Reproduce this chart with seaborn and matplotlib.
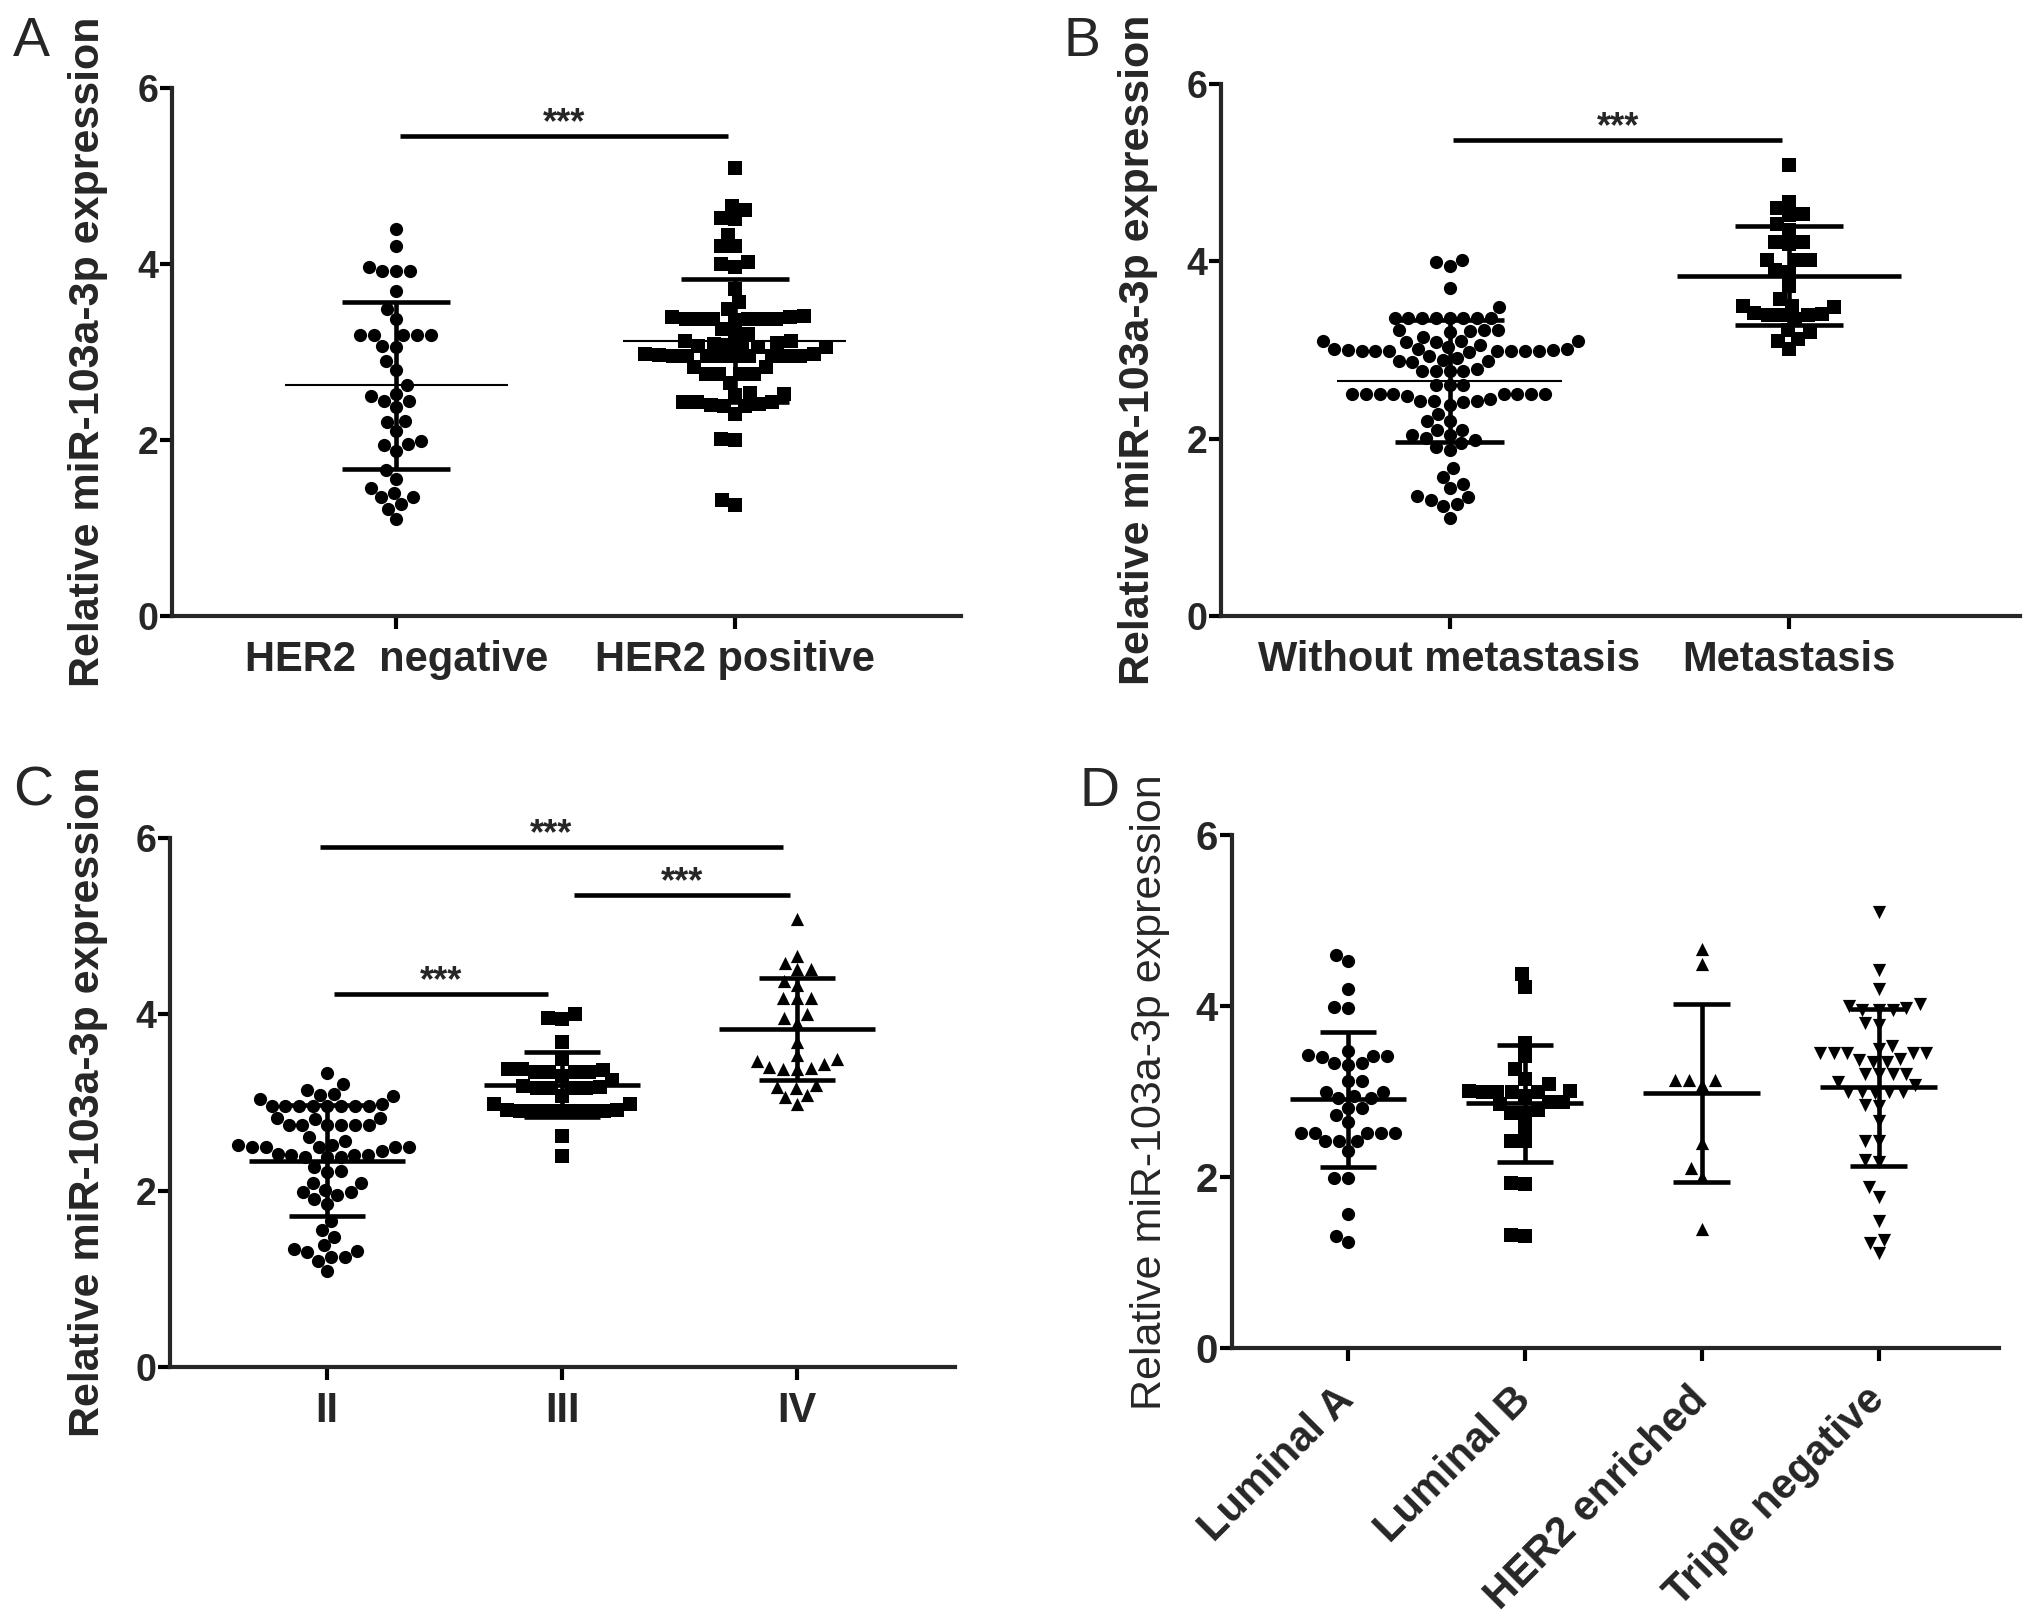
import numpy as np
import pandas as pd
import seaborn as sns
import matplotlib.pyplot as plt

#########################
# Data
#########################

ylabel = "Relative miR-103a-3p expression"

# panel A - HER2 status
her2_labels = ["HER2  negative", "HER2 positive"]
her2_negative = [4.40, 4.21, 3.97, 3.92, 3.92, 3.92, 3.69, 3.49, 3.38, 3.19, 3.19, 3.19, 3.19, 3.19,
                 3.07, 3.06, 2.90, 2.80, 2.62, 2.52, 2.50, 2.44, 2.44, 2.37, 2.22, 2.21, 2.10, 1.99,
                 1.95, 1.94, 1.87, 1.66, 1.56, 1.45, 1.40, 1.35, 1.35, 1.27, 1.22, 1.10]
her2_positive = [5.09, 4.66, 4.61, 4.52, 4.51, 4.33, 4.20, 4.20, 4.02, 4.00, 3.97, 3.72, 3.57, 3.49,
                 3.40, 3.38, 3.38, 3.38, 3.38, 3.41, 3.38, 3.38, 3.36, 3.40,
                 3.26, 3.21, 3.21, 3.13, 3.13,
                 3.08, 3.06, 3.09, 3.08, 3.10, 3.06, 3.07,
                 2.95, 2.95, 2.98, 2.96, 2.96, 2.96, 2.96, 2.95, 2.96, 2.96, 2.98, 2.97,
                 2.83, 2.83, 2.75, 2.75, 2.75, 2.75, 2.65,
                 2.53, 2.52, 2.51, 2.43, 2.43, 2.43, 2.41, 2.40, 2.39, 2.39, 2.29,
                 2.01, 2.00, 1.32, 1.26]
her2_mean = [2.62, 3.13]
her2_sd = [0.95, 0.70]

# panel B - metastasis
meta_labels = ["Without metastasis", "Metastasis"]
no_metastasis = [4.02, 3.95, 3.99, 3.70, 3.48,
                 3.36, 3.36, 3.36, 3.36, 3.36, 3.36, 3.36, 3.36,
                 3.22, 3.22, 3.21, 3.22, 3.20, 3.15,
                 3.10, 3.10, 3.09, 3.09, 3.10,
                 3.00, 3.00, 2.99, 2.99, 2.99, 3.01, 2.99, 3.03, 3.01, 2.99, 3.06, 2.99, 2.99, 2.98, 3.01,
                 2.93, 2.89, 2.88, 2.87, 2.91, 2.88,
                 2.76, 2.76, 2.76, 2.79, 2.76,
                 2.60, 2.60, 2.61,
                 2.50, 2.50, 2.50, 2.50, 2.50, 2.50, 2.50, 2.50, 2.48, 2.42, 2.42, 2.42, 2.41, 2.38, 2.45,
                 2.28, 2.20, 2.20, 2.10, 2.10,
                 2.04, 2.04, 1.98, 1.95, 1.91, 2.01, 1.87, 1.67, 1.57, 1.49, 1.44,
                 1.34, 1.31, 1.26, 1.35, 1.24, 1.11]
metastasis = [5.09, 4.67, 4.60, 4.53, 4.52, 4.42, 4.35, 4.22, 4.20, 4.22, 4.02, 4.01, 4.01, 3.90,
              3.88, 3.72, 3.57, 3.50, 3.50, 3.48, 3.40, 3.42, 3.41, 3.40, 3.40, 3.35, 3.22, 3.20,
              3.12, 3.10, 3.01]
meta_mean = [2.65, 3.84]
meta_sd = [0.69, 0.56]

# panel C - TNM stage
stage_labels = ["II", "III", "IV"]
stage_II = [3.33, 3.21, 3.14, 3.09, 3.10, 3.07, 3.04,
            2.96, 2.96, 2.96, 2.96, 2.98, 2.96, 2.96, 2.96, 2.96,
            2.82, 2.82, 2.81,
            2.74, 2.74, 2.74, 2.74, 2.74, 2.74,
            2.61, 2.56,
            2.50, 2.50, 2.50, 2.52, 2.52, 2.50, 2.50,
            2.42, 2.41, 2.41, 2.38, 2.41, 2.38, 2.45, 2.38,
            2.27, 2.22, 2.21, 2.09, 2.09,
            2.01, 1.99, 1.99, 1.95, 1.91, 1.85, 1.66, 1.55, 1.48,
            1.32, 1.30, 1.34, 1.38, 1.25, 1.25, 1.20, 1.09]
stage_III = [4.00, 3.95, 3.96, 3.69, 3.49,
             3.38, 3.35, 3.37, 3.38, 3.35, 3.35, 3.35, 3.30,
             3.25, 3.19, 3.17, 3.17, 3.18, 3.17, 3.16,
             3.07, 2.98, 2.98,
             2.90, 2.90, 2.90, 2.90, 2.92, 2.92, 2.90, 2.90, 2.90,
             2.62, 2.39]
stage_IV = [5.08, 4.66, 4.58, 4.51, 4.51, 4.38, 4.33, 4.18, 4.18, 4.18, 4.00, 3.96, 3.90, 3.69,
            3.49, 3.54, 3.47, 3.38, 3.44, 3.38, 3.40, 3.39, 3.20, 3.17, 3.18, 3.08, 3.06, 2.98]
stage_mean = [2.34, 3.20, 3.83]
stage_sd = [0.63, 0.37, 0.58]

# panel D - molecular subtype
subtype_labels = ["Luminal A", "Luminal B", "HER2 enriched", "Triple negative"]
luminal_a = [4.60, 4.53, 4.20, 3.99, 3.98, 3.47, 3.43, 3.41, 3.41, 3.40, 3.33, 3.31, 3.33, 3.12,
             3.12, 3.00, 3.00, 2.95, 2.92, 2.92, 2.81, 2.81, 2.72, 2.64, 2.52, 2.52, 2.52, 2.52,
             2.52, 2.42, 2.42, 2.42, 2.30, 1.99, 1.99, 1.57, 1.31, 1.24]
luminal_b = [4.37, 4.22, 3.57, 3.41, 3.26, 3.15, 3.01, 3.00, 3.00, 3.01, 3.09, 2.99, 3.00, 2.88,
             2.95, 2.88, 2.85, 2.75, 2.75, 2.78, 2.58, 2.42, 2.42, 1.93, 1.92, 1.32, 1.31]
her2_enriched = [4.67, 4.49, 3.08, 3.14, 3.14, 3.14, 2.40, 2.10, 2.00, 1.39]
triple_negative = [5.10, 4.42, 4.20, 4.00, 4.02, 3.95, 3.95, 3.95, 3.98, 3.80, 3.78, 3.45, 3.45,
                   3.45, 3.45, 3.50, 3.53, 3.45, 3.35, 3.34, 3.37, 3.38, 3.20, 3.20, 3.20, 3.20,
                   3.08, 3.11, 3.00, 3.00, 2.98, 3.00, 3.00, 2.83, 2.84, 2.65, 2.42, 2.42, 2.20,
                   2.17, 1.88, 1.77, 1.48, 1.26, 1.23, 1.11]
subtype_mean = [2.91, 2.86, 2.98, 3.05]
subtype_sd = [0.79, 0.68, 1.04, 0.92]

# significance brackets: (from, to, height)
her2_sig = [(0.01, 0.98, 5.46)]
meta_sig = [(0.01, 0.98, 5.37)]
stage_sig = [(-0.03, 1.94, 5.90), (1.05, 1.97, 5.35), (0.03, 0.94, 4.23)]


#########################
# Plot setup
#########################

sns.set_style("ticks")
plt.rcParams['font.family'] = ['Liberation Sans', 'DejaVu Sans']
plt.rcParams['font.weight'] = 'bold'

W, H = 2031, 1623
fig = plt.figure(figsize=(W / 100, H / 100), dpi=100)


def px_axes(left, top, right, bottom):
    return fig.add_axes([left / W, 1 - bottom / H, (right - left) / W, (bottom - top) / H])


def dot_panel(ax, groups, labels, markers, means, sds, mean_lw, xlim, sig):
    for lab, vals, mk in zip(labels, groups, markers):
        sns.swarmplot(x=[lab] * len(vals), y=vals, order=labels, marker=mk, color='black',
                      size=9.5, ax=ax, warn_thresh=1, zorder=2)
    # mean +/- SD
    for i, (m, s, lw) in enumerate(zip(means, sds, mean_lw)):
        ax.hlines(m, i - 0.33, i + 0.33, color='black', lw=lw, zorder=3)
        ax.hlines([m - s, m + s], i - 0.16, i + 0.16, color='black', lw=3.3, zorder=3)
        ax.vlines(i, m - s, m + s, color='black', lw=3.3, zorder=3)
    for x1, x2, y in sig:
        ax.plot([x1, x2], [y, y], color='black', lw=3.3, clip_on=False, solid_capstyle='butt')
        ax.text((x1 + x2) / 2, y + 0.03, '***', ha='center', va='baseline', fontsize=26,
                fontweight='bold', clip_on=False)
    ax.set_ylim(0, 6)
    ax.set_yticks([0, 2, 4, 6])
    ax.set_xlim(*xlim)
    ax.set_xlabel('')
    ax.set_ylabel('')
    sns.despine(ax=ax)
    for side in ['left', 'bottom']:
        ax.spines[side].set_linewidth(3)
    ax.tick_params(axis='both', direction='out', length=9, width=3, color='black')
    ax.tick_params(axis='y', labelsize=27, pad=1)
    ax.tick_params(axis='x', labelsize=30, pad=8)


# A
axA = px_axes(172, 88, 961, 616)
dot_panel(axA, [her2_negative, her2_positive], her2_labels, ['o', 's'], her2_mean, her2_sd,
          [1.5, 1.5], (-0.663, 1.669), her2_sig)

# B
axB = px_axes(1221, 84, 2020, 616)
dot_panel(axB, [no_metastasis, metastasis], meta_labels, ['o', 's'], meta_mean, meta_sd,
          [1.5, 3.3], (-0.673, 1.68), meta_sig)

# C
axC = px_axes(170, 838, 955, 1367)
dot_panel(axC, [stage_II, stage_III, stage_IV], stage_labels, ['o', 's', '^'], stage_mean,
          stage_sd, [3.3, 3.3, 3.3], (-0.668, 2.672), stage_sig)

# D
axD = px_axes(1232, 835, 1999, 1348)
dot_panel(axD, [luminal_a, luminal_b, her2_enriched, triple_negative], subtype_labels,
          ['o', 's', '^', 'v'], subtype_mean, subtype_sd, [3.3, 3.3, 3.3, 3.3],
          (-0.655, 3.68), [])
axD.tick_params(axis='x', pad=24)
axD.tick_params(axis='y', labelsize=29)
plt.setp(axD.get_xticklabels(), rotation=45, ha='right', va='center', rotation_mode='anchor')

# y labels and panel letters
for (x, y), w in zip([(88, 352), (1138, 350), (88, 1102), (1150, 1092)],
                     ['bold', 'bold', 'bold', 'normal']):
    fig.text(x / W, 1 - y / H, ylabel, rotation=90, ha='center', va='center',
             fontsize=31, fontweight=w)

for letter, (x, y) in zip("ABCD", [(13, 56), (1064, 56), (13, 806), (1080, 806)]):
    fig.text(x / W, 1 - y / H, letter, ha='left', va='baseline', fontsize=40,
             fontweight='normal')

plt.savefig('out.png', dpi=100)
